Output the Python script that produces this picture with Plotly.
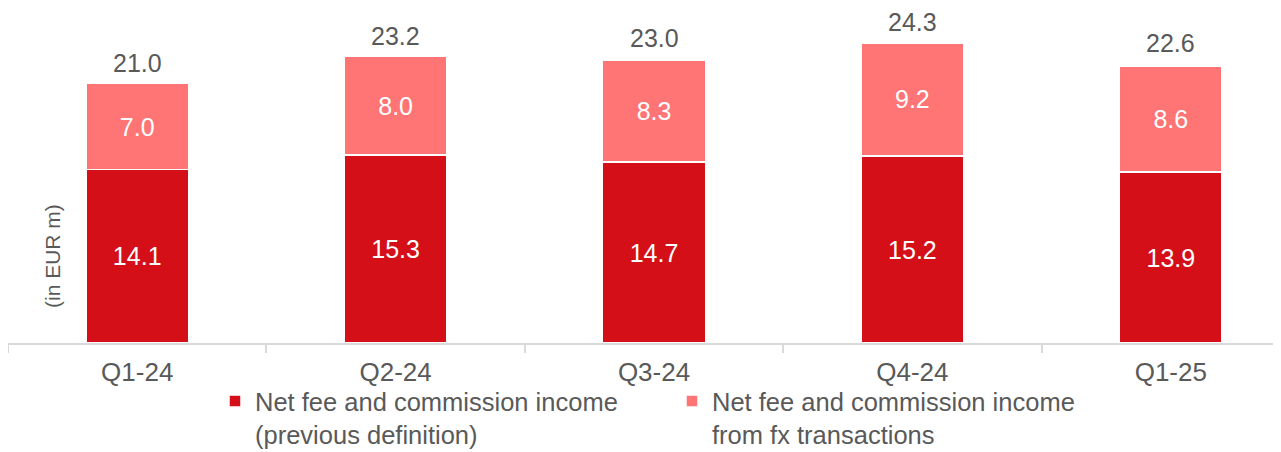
import plotly.graph_objects as go

categories = ["Q1-24", "Q2-24", "Q3-24", "Q4-24", "Q1-25"]
prev_def = [14.1, 15.3, 14.7, 15.2, 13.9]
fx_trans = [7.0, 8.0, 8.3, 9.2, 8.6]
totals = [21.0, 23.2, 23.0, 24.3, 22.6]
series_names = ["Net fee and commission income<br>(previous definition)",
                "Net fee and commission income<br>from fx transactions"]

DARK = "#D50F18"
LIGHT = "#FF7474"
GRAY = "#595959"
FONT = "Liberation Sans, Arial, sans-serif"

W, H = 1273, 444  # page body has an 8px margin

fig = go.Figure()
fig.add_trace(go.Bar(
    x=categories, y=prev_def, name=series_names[0],
    marker=dict(color=DARK, line=dict(color="white", width=1.5)),
    width=0.397,
    text=[f"{v:.1f}" for v in prev_def], textposition="inside",
    insidetextanchor="middle", textangle=0,
    textfont=dict(color="white", size=25, family=FONT),
))
fig.add_trace(go.Bar(
    x=categories, y=fx_trans, name=series_names[1],
    marker=dict(color=LIGHT, line=dict(color="white", width=1.5)),
    width=0.397,
    text=[f"{v:.1f}" for v in fx_trans], textposition="inside",
    insidetextanchor="middle", textangle=0,
    textfont=dict(color="white", size=25, family=FONT),
))

for c, t in zip(categories, totals):
    fig.add_annotation(x=c, y=t, text=f"{t:.1f}", showarrow=False,
                       yanchor="bottom", yshift=6,
                       font=dict(color=GRAY, size=25, family=FONT))

fig.add_annotation(xref="paper", yref="paper", x=44 / 1272, y=87 / 333,
                   text="(in EUR m)", textangle=-90, showarrow=False,
                   xanchor="center", yanchor="middle",
                   font=dict(color=GRAY, size=21, family=FONT))

fig.update_layout(
    width=W, height=H,
    margin=dict(l=0, r=1, t=2, b=109, autoexpand=False),
    paper_bgcolor="white", plot_bgcolor="white",
    barmode="stack", bargap=0.6,
    font=dict(family=FONT, color=GRAY, size=26),
    showlegend=True,
    legend=dict(orientation="h", xref="container", yref="container",
                x=207 / W, xanchor="left", y=1 - 370 / H,
                yanchor="top", valign="top", entrywidth=412,
                bgcolor="rgba(0,0,0,0)",
                font=dict(size=25.5, color=GRAY, family=FONT),
                itemwidth=30, traceorder="normal"),
    xaxis=dict(type="category", range=[-0.5, -0.5 + 1272 / 258.4],
               showline=True, linecolor="#D9D9D9", linewidth=1.5,
               ticks="outside", tickson="boundaries", ticklen=8,
               tickcolor="#D9D9D9", tickwidth=1.5,
               ticklabelstandoff=5,
               tickfont=dict(size=26, color=GRAY, family=FONT),
               showgrid=False, zeroline=False),
    yaxis=dict(range=[0, 333 / 12.3], visible=False, showgrid=False,
               zeroline=False),
)

fig.write_html("out.html")
